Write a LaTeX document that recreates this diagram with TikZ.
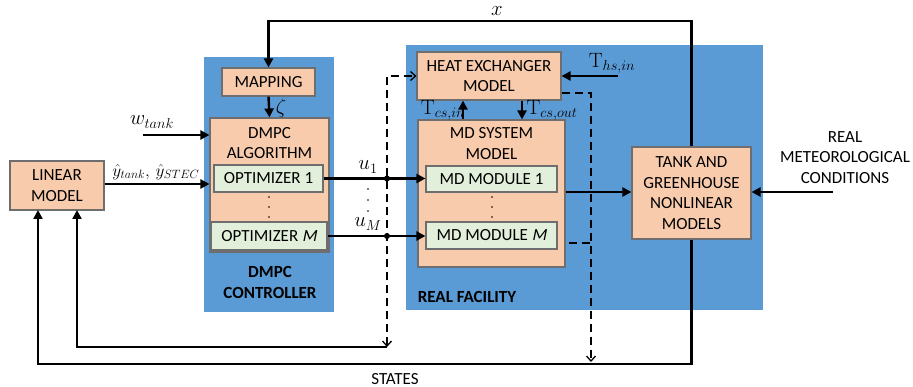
\documentclass[tikz,border=0pt]{standalone}
\usepackage[no-math]{fontspec}
\setmainfont{Carlito}
\newfontfamily\slantfont{Carlito}[FakeSlant=0.2]
\DeclareMathSizes{19.5}{19.5}{15}{11}
\DeclareMathSizes{17}{17}{13}{10}
\usetikzlibrary{arrows.meta,calc}
\definecolor{panelblue}{HTML}{5B9BD5}
\definecolor{salmon}{HTML}{F8CBAD}
\definecolor{lightgreen}{HTML}{E2EFDA}
\definecolor{boxedge}{HTML}{6E6E6E}
\tikzset{
  panel/.style={fill=panelblue,draw=none,inner sep=0pt,anchor=center},
  sbox/.style={fill=salmon,draw=boxedge,line width=1.1pt,inner sep=0pt,anchor=center,align=center},
  gbox/.style={fill=lightgreen,draw=boxedge,line width=1.1pt,inner sep=0pt,anchor=center,align=center},
  txt/.style={inner sep=0pt,anchor=center,align=center},
  mtxt/.style={inner sep=0pt,anchor=center,font=\fontsize{19.5}{22}\selectfont},
  thickarrow/.style={line width=2.4pt,-{Triangle[length=9pt,width=9pt]}},
  thickline/.style={line width=2.4pt},
  dashline/.style={line width=1.6pt,dash pattern=on 8pt off 5pt},
  dasharrow/.style={dashline,-{Straight Barb[length=5pt,width=9pt,line width=1.3pt]}},
  jdot/.style={circle,fill=black,inner sep=0pt,minimum size=6pt},
  sdot/.style={circle,fill=black,inner sep=0pt,minimum size=1.6pt},
}
\begin{document}
\begin{tikzpicture}[x=1pt,y=-1pt,font=\fontsize{17}{20.5}\selectfont]
\useasboundingbox (0,0) rectangle (913,387);
% panels
\node[panel,minimum width=130pt,minimum height=255pt] (dmpcpanel) at (269,184.5) {};
\node[panel,minimum width=357pt,minimum height=265pt] (facpanel) at (584.5,177.5) {};
% boxes
\node[sbox,minimum width=93pt,minimum height=28pt] (map) at (268.5,82) {MAPPING};
\node[sbox,minimum width=119pt,minimum height=134pt] (alg) at (269.5,185) {};
\node[txt] (algtext) at (269.5,143) {DMPC\\ALGORITHM};
\node[gbox,minimum width=109pt,minimum height=27pt] (opt1) at (268.5,178.5) {OPTIMIZER 1};
\node[gbox,minimum width=116pt,minimum height=28pt] (optM) at (269,236) {OPTIMIZER {\slantfont M}};
\node[sbox,minimum width=94pt,minimum height=49pt] (lin) at (57,185.5) {LINEAR\\MODEL};
\node[sbox,minimum width=144pt,minimum height=48pt] (hx) at (489,76) {HEAT EXCHANGER\\MODEL};
\node[sbox,minimum width=147pt,minimum height=147pt] (mds) at (491.5,193.5) {};
\node[txt] (mdstext) at (491.5,143.5) {MD SYSTEM\\MODEL};
\node[gbox,minimum width=131pt,minimum height=26pt] (md1) at (491.5,179) {MD MODULE 1};
\node[gbox,minimum width=131pt,minimum height=27pt] (mdM) at (491.5,235.5) {MD MODULE {\slantfont M}};
\node[sbox,minimum width=119pt,minimum height=92pt] (tank) at (691.5,193) {TANK AND\\GREENHOUSE\\NONLINEAR\\MODELS};
% panel labels
\node[txt,font=\fontsize{17}{20.5}\selectfont\bfseries] (dmpclabel) at (270,282.5) {DMPC\\CONTROLLER};
\node[txt,font=\fontsize{17}{20.5}\selectfont\bfseries] (faclabel) at (467,297) {REAL FACILITY};
\node[txt] (meteo) at (845,157.5) {REAL\\METEOROLOGICAL\\CONDITIONS};
\node[txt] (states) at (395,379) {STATES};
% vertical dots
\foreach \yy/\nm in {197/a,207/b,217/c}{
  \node[sdot] (dA\nm) at (269,\yy) {};
  \node[sdot] (dB\nm) at (492,\yy) {};
}
\foreach \yy/\nm in {189/a,200/b,211/c}{
  \node[sdot] (dC\nm) at (368,\yy) {};
}
% coordinates
\coordinate (topR) at (691.5,21);
\coordinate (wstart) at (143,135);
\coordinate (yy) at (0,184);
\coordinate (dl) at (387,347);
\coordinate (dtop) at (387,76);
\coordinate (lin2) at (77,210);
\coordinate (lin1) at (38,210);
\coordinate (sb) at (691.5,364);
\coordinate (dr1) at (591,93);
\coordinate (dr2) at (591,362);
\coordinate (mdd) at (591,243);
\coordinate (ths) at (618,76);
\coordinate (met) at (833,192);
\coordinate (flow) at (0,192);
% connectors
\draw[thickarrow] (tank.north) -- (topR) -| (map.north);
\node[mtxt] (xlabel) at (497,11) {$x$};
\draw[thickarrow] (map.south) -- (alg.north);
\node[mtxt] (zeta) at (281,108) {$\zeta$};
\draw[thickarrow] (wstart) -- (wstart -| alg.west);
\node[mtxt] (wlabel) at (152,122) {$w_{tank}$};
\draw[thickarrow] (lin.east |- yy) -- (alg.west |- yy);
\node[mtxt,font=\fontsize{17}{20}\selectfont] (ylabel) at (156,172) {$\hat{y}_{tank},\,\hat{y}_{STEC}$};
\draw[thickarrow] (opt1.east) -- (opt1.east -| md1.west);
\draw[thickarrow] (optM.east) -- (optM.east -| mdM.west);
\node[mtxt] (u1) at (368,167) {$u_1$};
\node[mtxt] (uM) at (368,224) {$u_M$};
\draw[dashline,{Straight Barb[length=5pt,width=9pt,line width=1.3pt]}-{Straight Barb[length=5pt,width=9pt,line width=1.3pt]}] (dl) -- (dtop) -- (hx.west);
\node[jdot] (j1) at (opt1.east -| dl) {};
\node[jdot] (j2) at (optM.east -| dl) {};
\draw[thickarrow] (dl) -| (lin2);
\draw[thickarrow] (tank.south) -- (sb) -| (lin1);
\draw[dasharrow] (hx.east |- dr1) -- (dr1) -- (dr2);
\draw[dashline] ([xshift=3pt]mds.east |- mdd) -- (mdd);
\draw[thickarrow] (ths) -- (hx.east);
\node[mtxt] (thslabel) at (612,63) {$\mathrm{T}_{hs,in}$};
\draw[thickarrow] (mds.north -| 463,0) -- (hx.south -| 463,0);
\node[mtxt] (tcsin) at (443,110) {$\mathrm{T}_{cs,in}$};
\draw[thickarrow] (hx.south -| 522,0) -- (mds.north -| 522,0);
\node[mtxt] (tcsout) at (552,110) {$\mathrm{T}_{cs,out}$};
\draw[thickarrow] (mds.east |- flow) -- (tank.west |- flow);
\draw[thickarrow] (met) -- (tank.east |- met);
\end{tikzpicture}
\end{document}
